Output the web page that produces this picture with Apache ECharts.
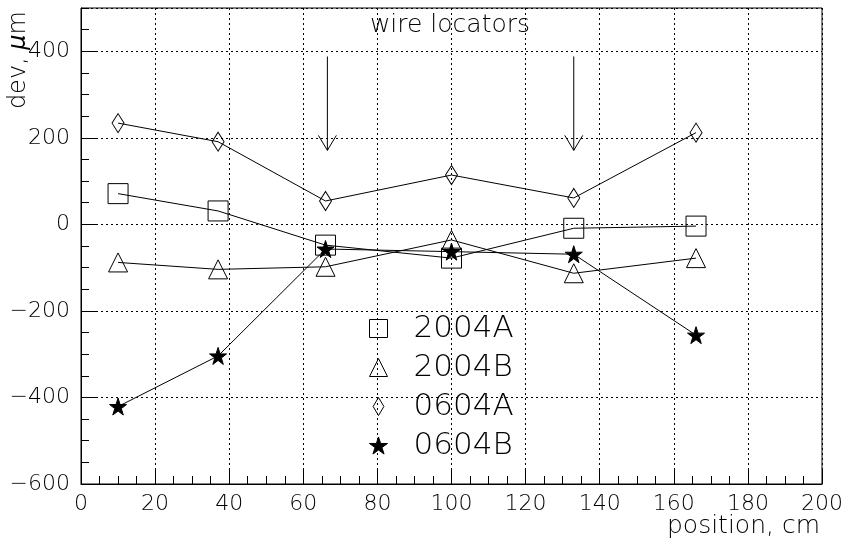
<!DOCTYPE html>
<html>
<head>
    <meta charset="utf-8">
    <title>wire locators</title>
    <script type="text/javascript" src="https://cdn.jsdelivr.net/npm/echarts@6/dist/echarts.min.js"></script>
    <style>
        html, body { margin: 0; padding: 0; background: #fff; }
    </style>
</head>
<body>
<div id="main" style="width:844px;height:541px;"></div>

<script type="text/javascript">
    // data
    var positions = [10, 37, 66, 100, 133, 166];
    var dev2004A = [71, 31, -48, -78, -9, -4];
    var dev2004B = [-88, -104, -98, -36, -113, -78];
    var dev0604A = [234, 191, 54, 114, 61, 212];
    var dev0604B = [-421, -304, -57, -63, -69, -256];
    var seriesNames = ['2004A', '2004B', '0604A', '0604B'];
    // wire locator arrows: x, top, tip
    var locatorX = [66.5, 133];
    var locatorTop = 388;
    var locatorTip = 171;

    var FONT = 'DejaVu Sans';
    var STAR = 'path://M50 0L61.23 34.55L97.55 34.55L68.17 55.9L79.39 90.45L50 69.1L20.61 90.45L31.83 55.9L2.45 34.55L38.77 34.55Z';
    var DIAMOND = 'path://M6 0L12 10L6 20L0 10Z';

    var chart = echarts.init(document.getElementById('main'));

    function pairs(ys) {
        return positions.map(function (x, i) { return [x, ys[i]]; });
    }

    var hollow = {color: 'transparent', borderColor: '#000', borderWidth: 1};
    var filled = {color: '#000', borderColor: '#000', borderWidth: 1};

    function lineSeries(name, ys, symbol, size, style) {
        return {
            name: name,
            type: 'line',
            data: pairs(ys),
            symbol: symbol,
            symbolSize: size,
            showAllSymbol: true,
            lineStyle: {color: '#000', width: 1},
            itemStyle: style,
            emphasis: {disabled: true},
            z: 3
        };
    }

    var option = {
        backgroundColor: '#fff',
        animation: false,
        grid: {
            left: 81, right: 22, top: 8, bottom: 57,
            show: true,
            borderColor: '#000',
            borderWidth: 1,
            containLabel: false,
            outerBoundsMode: 'none'
        },
        xAxis: {
            type: 'value',
            min: 0, max: 200, interval: 20,
            axisLine: {show: true, onZero: false, lineStyle: {color: '#000', width: 1}},
            axisTick: {show: true, inside: true, length: 16, lineStyle: {color: '#000'}},
            minorTick: {show: true, splitNumber: 4, length: 8, lineStyle: {color: '#000'}},
            axisLabel: {color: '#000', fontFamily: FONT, fontSize: 22, fontWeight: 200, margin: 9},
            splitLine: {show: true, lineStyle: {color: '#000', width: 1, type: [2, 3]}}
        },
        yAxis: [{
            type: 'value',
            min: -600, max: 500, interval: 200,
            axisLine: {show: true, onZero: false, lineStyle: {color: '#000', width: 1}},
            axisTick: {show: true, inside: true, length: 16, lineStyle: {color: '#000'}},
            axisLabel: {
                color: '#000', fontFamily: FONT, fontSize: 22, fontWeight: 200, margin: 11,
                showMaxLabel: false,
                formatter: function (v) { return String(v).replace('-', '\u2212'); }
            },
            splitLine: {show: true, lineStyle: {color: '#000', width: 1, type: [2, 3]}}
        }, {
            // minor ticks every 50
            type: 'value',
            position: 'left',
            min: -600, max: 500, interval: 50,
            axisLine: {show: false},
            axisTick: {show: true, inside: true, length: 8, lineStyle: {color: '#000'}},
            axisLabel: {show: false},
            splitLine: {show: false}
        }],
        legend: {
            orient: 'vertical',
            left: 369,
            top: 313,
            padding: 0,
            itemWidth: 18,
            itemHeight: 18,
            itemGap: 8,
            selectedMode: false,
            textStyle: {
                color: '#000', fontFamily: FONT, fontSize: 31, fontWeight: 200,
                lineHeight: 30, padding: [0, 0, 0, 21]
            },
            data: [
                {name: seriesNames[0], icon: 'rect', itemStyle: hollow},
                {name: seriesNames[1], icon: 'triangle', itemStyle: hollow},
                {name: seriesNames[2], icon: DIAMOND, itemStyle: hollow},
                {name: seriesNames[3], icon: STAR, itemStyle: filled}
            ]
        },
        graphic: [
            {
                type: 'text', x: 450, y: 38,
                style: {text: 'wire locators', fill: '#000', font: '200 25px "DejaVu Sans"', textAlign: 'center', textVerticalAlign: 'bottom'}
            },
            {
                type: 'text', x: 820, y: 539,
                style: {text: 'position, cm', fill: '#000', font: '200 25px "DejaVu Sans"', textAlign: 'right', textVerticalAlign: 'bottom'}
            },
            {
                type: 'text', x: 19, y: 11, rotation: Math.PI / 2,
                style: {
                    text: '{a|dev, }{b|\u03bc}{a|m}',
                    textAlign: 'right', textVerticalAlign: 'middle',
                    rich: {
                        a: {fill: '#000', fontFamily: FONT, fontSize: 24, fontWeight: 200},
                        b: {fill: '#000', fontFamily: FONT, fontSize: 24, fontWeight: 200, fontStyle: 'italic'}
                    }
                }
            }
        ],
        series: [
            lineSeries(seriesNames[0], dev2004A, 'rect', 20, hollow),
            lineSeries(seriesNames[1], dev2004B, 'triangle', 19, hollow),
            lineSeries(seriesNames[2], dev0604A, DIAMOND, [12, 19], hollow),
            lineSeries(seriesNames[3], dev0604B, STAR, 17, filled),
            {
                type: 'custom',
                silent: true,
                data: locatorX.map(function (x) { return [x, locatorTop, locatorTip]; }),
                encode: {x: 0, y: [1, 2]},
                renderItem: function (params, api) {
                    var top = api.coord([api.value(0), api.value(1)]);
                    var tip = api.coord([api.value(0), api.value(2)]);
                    var st = {stroke: '#000', lineWidth: 1, fill: null};
                    return {
                        type: 'group',
                        children: [
                            {type: 'line', shape: {x1: top[0], y1: top[1], x2: tip[0], y2: tip[1]}, style: st},
                            {type: 'polyline', shape: {points: [[tip[0] - 9, tip[1] - 15], tip, [tip[0] + 9, tip[1] - 15]]}, style: st}
                        ]
                    };
                },
                z: 4
            }
        ]
    };

    chart.setOption(option);
</script>
</body>
</html>
